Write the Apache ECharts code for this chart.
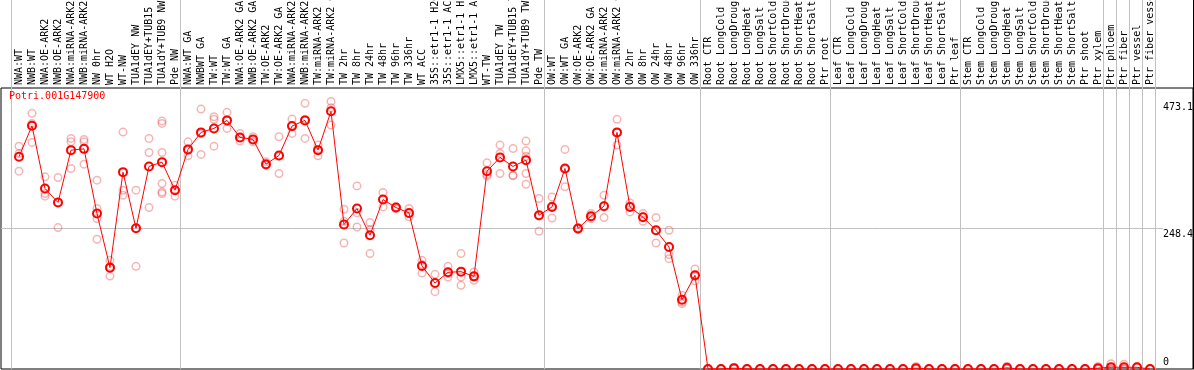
<!DOCTYPE html>
<html>
<head>
<meta charset="utf-8">
<script src="https://cdn.jsdelivr.net/npm/echarts@6/dist/echarts.min.js"></script>
<style>
html, body { margin: 0; padding: 0; background: #fff; }
#chart { width: 1194px; height: 370px; }
</style>
</head>
<body>
<div id="chart"></div>
<script>
var geneName = "Potri.001G147900";

var categories = [
    "NWA:WT", "NWB:WT", "NWA:OE-ARK2", "NWB:OE-ARK2", "NWA:miRNA-ARK2", "NWB:miRNA-ARK2",
    "NW 0hr", "WT H2O", "WT-NW", "TUA1dEY NW", "TUA1dEY+TUB15 NW", "TUA1dY+TUB9 NW", "Pde NW",
    "NWA:WT GA", "NWBWT GA", "TW:WT", "TW:WT GA", "NWA:OE-ARK2 GA", "NWB:OE-ARK2 GA",
    "TW:OE-ARK2", "TW:OE-ARK2 GA", "NWA:miRNA-ARK2 GA", "NWB:miRNA-ARK2 GA", "TW:miRNA-ARK2",
    "TW:miRNA-ARK2 GA", "TW 2hr", "TW 8hr", "TW 24hr", "TW 48hr", "TW 96hr", "TW 336hr",
    "WT ACC", "35S::etr1-1 H2O", "35S::etr1-1 ACC", "LMX5::etr1-1 H2O", "LMX5::etr1-1 ACC",
    "WT-TW", "TUA1dEY TW", "TUA1dEY+TUB15 TW", "TUA1dY+TUB9 TW", "Pde TW",
    "OW:WT", "OW:WT GA", "OW:OE-ARK2", "OW:OE-ARK2 GA", "OW:miRNA-ARK2", "OW:miRNA-ARK2 GA",
    "OW 2hr", "OW 8hr", "OW 24hr", "OW 48hr", "OW 96hr", "OW 336hr",
    "Root CTR", "Root LongCold", "Root LongDrought", "Root LongHeat", "Root LongSalt",
    "Root ShortCold", "Root ShortDrought", "Root ShortHeat", "Root ShortSalt", "Ptr root",
    "Leaf CTR", "Leaf LongCold", "Leaf LongDrought", "Leaf LongHeat", "Leaf LongSalt",
    "Leaf ShortCold", "Leaf ShortDrought", "Leaf ShortHeat", "Leaf ShortSalt", "Ptr leaf",
    "Stem CTR", "Stem LongCold", "Stem LongDrought", "Stem LongHeat", "Stem LongSalt",
    "Stem ShortCold", "Stem ShortDrought", "Stem ShortHeat", "Stem ShortSalt", "Ptr shoot", "Ptr xylem",
    "Ptr phloem", "Ptr fiber", "Ptr vessel", "Ptr fiber vessel"
];

// mean expression per sample
var means = [
    375.1, 430.0, 319.1, 294.3, 386.9, 389.2, 274.8, 179.2, 348.0, 248.8, 358.1, 365.7, 316.1,
    388.2, 418.3, 425.3, 439.5, 409.4, 405.9, 362.1, 377.5, 429.4, 439.5, 386.9, 455.5,
    255.4, 283.7, 236.4, 299.6, 285.4, 275.9, 182.1, 152.0, 170.9, 172.1, 163.8,
    349.7, 374.0, 358.1, 369.2, 271.8,
    286.5, 354.5, 248.3, 270.0, 287.8, 418.3, 286.5, 268.3, 245.3, 215.7, 122.5, 165.6,
    0, 0, 1.5, 0, 0, 0, 0, 0, 0, 0,
    0, 0, 0, 0, 0, 0, 1.5, 0, 0, 0,
    0, 0, 0, 2, 0, 0, 0, 0, 0, 0, 1.5,
    3.3, 3, 3, 0
];

// single replicates per sample
var replicates = [
    [394, 381, 349.7], [451.9, 434.2, 400.6], [339.7, 310.3, 305.5], [338.6, 294.3, 250.0],
    [407.6, 401.6, 354.5], [405.9, 401.6, 362.1], [333.8, 283.7, 266, 229.3], [192.1, 181, 164.3],
    [418.8, 316, 307.2], [316.1, 248.8, 181.5], [407.6, 382.8, 285.4],
    [438.3, 434.2, 382.8, 328, 313.1, 310.3], [325, 316.1, 305.5],
    [401.6, 386.2, 376.8], [459.5, 416, 379.3], [445.9, 441.3, 394], [453.7, 439.5, 425.3],
    [416.5, 408.8, 402.9], [410.5, 405.6, 401.6], [366.2, 360.4, 360], [410.5, 376.3, 345.7],
    [441.8, 430, 416.5], [469.6, 441.3, 407.6], [395.8, 388.1, 376.8], [473.1, 462, 431.2],
    [282.4, 261, 222.8], [323.7, 276.3, 251.1], [258.9, 246.3, 204], [312, 300.3, 286.5],
    [287, 286, 283], [283.7, 274.8, 269], [192.1, 184.6, 169.6], [167.3, 152, 136.7],
    [181.5, 168.6, 162.6], [204, 162.6, 147.9], [171.4, 162.6, 156.7],
    [364.4, 343.8, 340.9], [395.8, 381, 345.7], [389.9, 342.7, 341.7],
    [402.9, 385.7, 376.3, 345.7, 326.7], [301.4, 270.5, 243.5],
    [304.2, 288.3, 267], [388.2, 353.3, 322], [249.5, 248.7, 246.7], [274.8, 269.2, 266],
    [307.2, 288.4, 267.8], [441.3, 417.8, 395.8], [293.6, 288.2, 277.7], [274.8, 269, 261.2],
    [267.8, 245.3, 222.8], [245.3, 202.2, 195.1], [130.2, 118.3, 115.5], [177, 164, 156],
    [0, 0, 0], [0, 0, 0], [3, 1, 0.5], [0, 0, 0], [0, 0, 0],
    [0, 0, 0], [0, 0, 0], [0, 0, 0], [0, 0, 0], [0, 0, 0],
    [0, 0, 0], [0, 0, 0], [0, 0, 0], [0, 0, 0], [0, 0, 0],
    [0, 0, 0], [4.5, 0, 0], [0, 0, 0], [0, 0, 0], [0, 0, 0],
    [0, 0, 0], [0, 0, 0], [0, 0, 0], [4.5, 1, 0.5], [0, 0, 0],
    [0, 0, 0], [0, 0, 0], [0, 0, 0], [0, 0, 0], [0, 0, 0], [4.5, 0, 0],
    [9.5, 0.5, 0], [8.5, 0.5, 0], [4, 3, 2], [0, 0, 0]
];

// first sample index of each tissue group (last entry = end)
var groupStarts = [0, 13, 41, 53, 63, 73, 84, 85, 86, 87, 88];

// y axis: max is 105% of the top replicate, labels at max value and half of axis
var yMax = 496.755;
var yTopLabel = 473.1;
var yMidLabel = 248.3775;

var FONT = "DejaVu Sans Mono";
var xMin = -1.3846;

var chart = echarts.init(document.getElementById("chart"), null, { renderer: "canvas" });

var meanData = means.map(function (v, i) { return [i, v]; });
var repData = [];
replicates.forEach(function (list, i) {
    list.forEach(function (v) { repData.push([i, v]); });
});
var separators = groupStarts.map(function (s) { return s - 0.62; });

var option = {
    animation: false,
    title: {
        text: geneName,
        left: 9,
        top: 91,
        padding: 0,
        textStyle: { color: "#ff0000", fontFamily: FONT, fontSize: 10, fontWeight: "normal" }
    },
    grid: [
        { left: 1, right: 31, top: 88, bottom: 1, show: false, outerBoundsMode: "none", containLabel: false },
        { left: 1, right: 1, top: 0, bottom: 1, show: false, outerBoundsMode: "none", containLabel: false },
        { left: 1, right: 1, top: 88, bottom: 1, show: true, borderColor: "#000", borderWidth: 1,
          backgroundColor: "transparent", outerBoundsMode: "none", containLabel: false }
    ],
    xAxis: [
        {
            gridIndex: 0,
            type: "value",
            position: "top",
            min: xMin,
            max: 88.0,
            axisLine: { show: false },
            axisTick: { show: false },
            splitLine: { show: false },
            axisLabel: {
                customValues: categories.map(function (c, i) { return i; }),
                formatter: function (v) { return categories[Math.round(v)]; },
                rotate: 90,
                margin: 3,
                fontFamily: FONT,
                fontSize: 10,
                color: "#000"
            }
        },
        {
            gridIndex: 1,
            type: "value",
            min: xMin,
            max: 90.308,
            axisLine: { show: false },
            axisLabel: { show: false },
            axisTick: { show: false, customValues: separators },
            splitLine: { show: true, lineStyle: { color: "#c0c0c0", width: 1 } }
        },
        {
            gridIndex: 2,
            type: "value",
            show: false
        }
    ],
    yAxis: [
        {
            gridIndex: 0,
            type: "value",
            position: "right",
            min: 0,
            max: yMax,
            axisLine: { show: false },
            axisTick: { show: false, customValues: [yMidLabel] },
            splitLine: { show: true, lineStyle: { color: "#c0c0c0", width: 1 } },
            axisLabel: {
                customValues: [yMidLabel, yTopLabel],
                formatter: function (v) { return v.toFixed(1); },
                verticalAlign: "top",
                align: "left",
                margin: 0,
                padding: [1, 0, 0, 0],
                fontFamily: FONT,
                fontSize: 10,
                color: "#000"
            }
        },
        {
            gridIndex: 0,
            type: "value",
            position: "right",
            min: 0,
            max: yMax,
            axisLine: { show: false },
            axisTick: { show: false },
            splitLine: { show: false },
            axisLabel: {
                customValues: [0],
                formatter: function (v) { return String(v); },
                verticalAlign: "bottom",
                align: "left",
                margin: 0,
                padding: [0, 0, 2, 0],
                fontFamily: FONT,
                fontSize: 10,
                color: "#000"
            }
        },
        {
            // right edge of the picture runs the full height
            gridIndex: 1, type: "value", min: 0, max: 1, position: "right",
            axisLine: { show: true, onZero: false, lineStyle: { color: "#000", width: 1 } },
            axisTick: { show: false }, axisLabel: { show: false }, splitLine: { show: false }
        },
        { gridIndex: 2, type: "value", show: false, min: 0, max: 1 }
    ],
    series: [
        {
            name: "replicates",
            type: "scatter",
            xAxisIndex: 0,
            yAxisIndex: 0,
            data: repData,
            symbol: "circle",
            symbolSize: 7.5,
            clip: false,
            itemStyle: { color: "rgba(0,0,0,0)", borderColor: "rgba(232,70,70,0.5)", borderWidth: 1.5 },
            z: 2
        },
        {
            name: "mean",
            type: "line",
            xAxisIndex: 0,
            yAxisIndex: 0,
            data: meanData,
            symbol: "circle",
            symbolSize: 8,
            showAllSymbol: true,
            clip: false,
            lineStyle: { color: "#ff0000", width: 1 },
            itemStyle: { color: "rgba(0,0,0,0)", borderColor: "#ff0000", borderWidth: 2 },
            z: 3
        }
    ]
};

chart.setOption(option);
</script>
</body>
</html>
